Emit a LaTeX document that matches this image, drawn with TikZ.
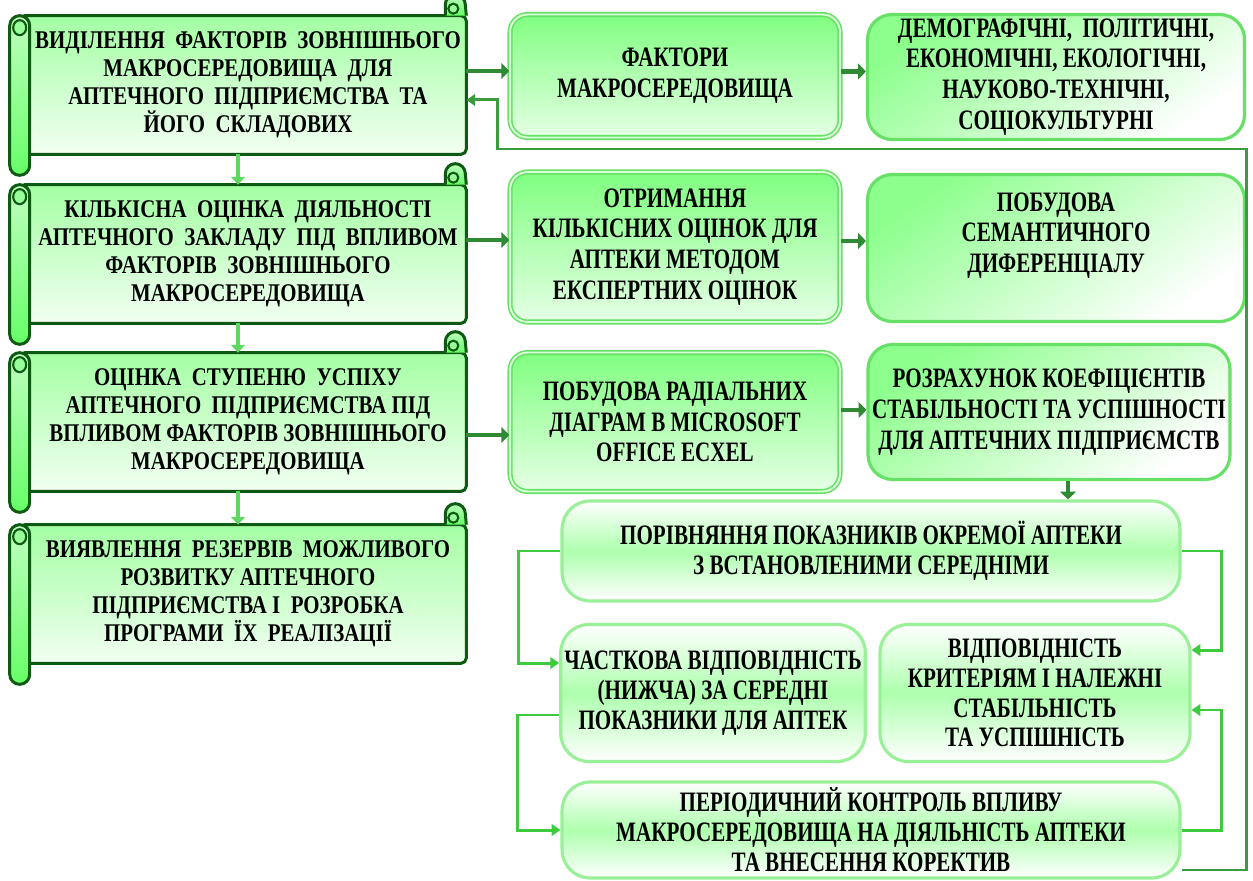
\documentclass[tikz,border=0pt]{standalone}
\usepackage{fontspec}
\setmainfont{Liberation Serif}
\newfontfamily\scrollfont[FakeStretch=0.82]{Liberation Serif}
\newfontfamily\boxfont[FakeStretch=0.75]{Liberation Serif}
\usetikzlibrary{arrows.meta,calc,positioning,backgrounds}
\definecolor{scrollink}{HTML}{0E5A12}
\definecolor{fatgreen}{HTML}{2E8B34}
\definecolor{linkgreen}{HTML}{3CCB3C}
\definecolor{loopgreen}{HTML}{3A9C3E}
\definecolor{rimgreen}{HTML}{66E066}
\definecolor{softrim}{HTML}{99F099}
\definecolor{stepgreen}{HTML}{5ED85E}
\tikzset{scrolltext/.style={minimum width=8.72cm,minimum height=2.76cm,inner sep=1pt,align=center,font=\scrollfont\bfseries\fontsize{14.5}{16}\selectfont},scrollbody/.style={draw=scrollink,line width=1.7pt,rounded corners=3pt,top color=green!36,bottom color=green!5},tube/.style={draw=scrollink,line width=1.7pt,top color=green!25,bottom color=green!60},curl/.style={draw=scrollink,line width=1.2pt,fill=green!40},midbox/.style={draw=rimgreen,double=white!85!green,double distance=1.1pt,line width=.9pt,rounded corners=10pt,top color=green!50,bottom color=green!10,inner sep=2pt,align=center,font=\boxfont\bfseries\fontsize{16}{17.5}\selectfont},sidebox/.style={draw=rimgreen,line width=1.8pt,rounded corners=14pt,top color=green!45,bottom color=white,shading angle=35,inner sep=2pt,align=center,font=\boxfont\bfseries\fontsize{16}{17.5}\selectfont},lowbox/.style={draw=softrim,line width=1.8pt,rounded corners=16pt,top color=white,bottom color=white,middle color=green!32,inner sep=2pt,align=center,font=\boxfont\bfseries\fontsize{16}{17}\selectfont},fatarrow/.style={fatgreen,line width=2.8pt,-{Triangle[length=4.5pt,width=9pt]}},stepdown/.style={stepgreen,line width=2.4pt,-{Triangle[length=4.5pt,width=8pt]}},linkarrow/.style={linkgreen,line width=1.7pt,-{Triangle[length=5pt,width=6.5pt]}},looparrow/.style={loopgreen,line width=1.7pt,-{Triangle[length=5pt,width=6.5pt]}}}
\begin{document}
\begin{tikzpicture}[x=0.02cm,y=-0.02cm]
\useasboundingbox (0,0) rectangle (1253,881);
\node[scrolltext] (s1) at (248,85) {ВИДІЛЕННЯ~ ФАКТОРІВ~ ЗОВНІШНЬОГО\\МАКРОСЕРЕДОВИЩА~ ДЛЯ\\АПТЕЧНОГО~ ПІДПРИЄМСТВА~ ТА\\ЙОГО~ СКЛАДОВИХ};
\node[scrolltext] (s2) at (248,254) {КІЛЬКІСНА~ ОЦІНКА~ ДІЯЛЬНОСТІ\\АПТЕЧНОГО~ ЗАКЛАДУ~ ПІД~ ВПЛИВОМ\\ФАКТОРІВ~ ЗОВНІШНЬОГО\\МАКРОСЕРЕДОВИЩА};
\node[scrolltext] (s3) at (248,422) {ОЦІНКА~ СТУПЕНЮ~ УСПІХУ\\АПТЕЧНОГО~ ПІДПРИЄМСТВА ПІД\\ВПЛИВОМ ФАКТОРІВ ЗОВНІШНЬОГО\\МАКРОСЕРЕДОВИЩА};
\node[scrolltext] (s4) at (248,594) {ВИЯВЛЕННЯ~ РЕЗЕРВІВ~ МОЖЛИВОГО\\РОЗВИТКУ АПТЕЧНОГО\\ПІДПРИЄМСТВА І~ РОЗРОБКА\\ПРОГРАМИ~ ЇХ~ РЕАЛІЗАЦІЇ};
\begin{scope}[on background layer]
\foreach \s in {s1,s2,s3,s4}{
\draw[scrollbody] ([xshift=-0.2cm]\s.north west) rectangle (\s.south east);
\draw[tube,rounded corners=0.2cm] ([xshift=-0.4cm]\s.north west) rectangle ([yshift=-0.42cm]\s.south west);
\draw[curl] ([xshift=-0.2cm,yshift=-0.24cm]\s.north west) ellipse[x radius=0.13cm,y radius=0.15cm];
\draw[tube] ([xshift=-0.42cm]\s.north east) -- ++(0,0.22cm) arc[start angle=180,end angle=0,radius=0.2cm] -- (\s.north east);
\draw[curl] ([xshift=-0.26cm,yshift=0.14cm]\s.north east) circle[radius=0.1cm];
}
\end{scope}
\node[midbox,minimum width=6.6cm,minimum height=2.46cm] (b1) at (675,76) {ФАКТОРИ\\МАКРОСЕРЕДОВИЩА};
\node[midbox,minimum width=6.6cm,minimum height=3cm] (b2) at (675,247) {ОТРИМАННЯ\\КІЛЬКІСНИХ ОЦІНОК ДЛЯ\\АПТЕКИ МЕТОДОМ\\ЕКСПЕРТНИХ ОЦІНОК};
\node[midbox,minimum width=6.6cm,minimum height=2.78cm] (b3) at (675,422) {ПОБУДОВА РАДІАЛЬНИХ\\ДІАГРАМ В MICROSOFT\\OFFICE ECXEL};
\node[sidebox,minimum width=7.54cm,minimum height=2.5cm] (c1) at (1056,77) {ДЕМОГРАФІЧНІ,~ ПОЛІТИЧНІ,\\ЕКОНОМІЧНІ, ЕКОЛОГІЧНІ,\\НАУКОВО-ТЕХНІЧНІ,\\СОЦІОКУЛЬТУРНІ};
\node[sidebox,minimum width=7.54cm,minimum height=2.94cm] (c2) at (1056,248) {ПОБУДОВА\\СЕМАНТИЧНОГО\\ДИФЕРЕНЦІАЛУ\\~};
\node[sidebox,minimum width=7.24cm,minimum height=2.7cm] (c3) at (1049,412) {РОЗРАХУНОК КОЕФІЦІЄНТІВ\\СТАБІЛЬНОСТІ ТА УСПІШНОСТІ\\ДЛЯ АПТЕЧНИХ ПІДПРИЄМСТВ};
\node[lowbox,minimum width=12.36cm,minimum height=2cm] (d1) at (871,551) {ПОРІВНЯННЯ ПОКАЗНИКІВ ОКРЕМОЇ АПТЕКИ\\З ВСТАНОВЛЕНИМИ СЕРЕДНІМИ};
\node[lowbox,minimum width=6.06cm,minimum height=2.74cm] (d2) at (713,693) {ЧАСТКОВА ВІДПОВІДНІСТЬ\\(НИЖЧА) ЗА СЕРЕДНІ\\ПОКАЗНИКИ ДЛЯ АПТЕК};
\node[lowbox,minimum width=6.2cm,minimum height=2.74cm] (d3) at (1035,693) {ВІДПОВІДНІСТЬ\\КРИТЕРІЯМ І НАЛЕЖНІ\\СТАБІЛЬНІСТЬ\\ТА УСПІШНІСТЬ};
\node[lowbox,minimum width=12.36cm,minimum height=1.92cm] (d4) at (871,830) {ПЕРІОДИЧНИЙ КОНТРОЛЬ ВПЛИВУ\\МАКРОСЕРЕДОВИЩА НА ДІЯЛЬНІСТЬ АПТЕКИ\\ТА ВНЕСЕННЯ КОРЕКТИВ};
\draw[stepdown] ([xshift=-0.2cm]s1.south) -- ([xshift=-0.2cm]s2.north);
\draw[stepdown] ([xshift=-0.2cm]s2.south) -- ([xshift=-0.2cm]s3.north);
\draw[stepdown] ([xshift=-0.2cm]s3.south) -- ([xshift=-0.2cm]s4.north);
\draw[fatarrow] ([yshift=0.28cm]s1.east) -- ([yshift=0.28cm]s1.east -| b1.west);
\draw[fatarrow] ([yshift=0.28cm]s2.east) -- ([yshift=0.28cm]s2.east -| b2.west);
\draw[fatarrow] ([yshift=-0.26cm]s3.east) -- ([yshift=-0.26cm]s3.east -| b3.west);
\draw[fatarrow] ([yshift=0.09cm]b1.east) -- ([yshift=0.09cm]b1.east -| c1.west);
\draw[fatarrow] ([yshift=0.12cm]b2.east) -- ([yshift=0.12cm]b2.east -| c2.west);
\draw[fatarrow] ([yshift=0.24cm]b3.east) -- ([yshift=0.24cm]b3.east -| c3.west);
\draw[fatarrow] ([xshift=0.38cm]c3.south) -- ([xshift=0.38cm]c3.south |- d1.north);
\draw[linkarrow] (d1.west) -- ++(-0.84cm,0) |- ([yshift=0.6cm]d2.west);
\draw[linkarrow] (d1.east) -- ++(0.8cm,0) |- ([yshift=0.86cm]d3.east);
\draw[linkarrow] ([yshift=-0.44cm]d2.west) -- ++(-0.84cm,0) |- (d4.west);
\draw[linkarrow] (d4.east) -- ++(0.8cm,0) |- ([yshift=-0.34cm]d3.east);
\coordinate (loopcorner) at (1246,149);
\coordinate (loopknee) at (497,149);
\draw[looparrow] ([yshift=-0.8cm]d4.east) -| (loopcorner) -- (loopknee) |- ([yshift=-0.3cm]s1.east);
\end{tikzpicture}
\end{document}
